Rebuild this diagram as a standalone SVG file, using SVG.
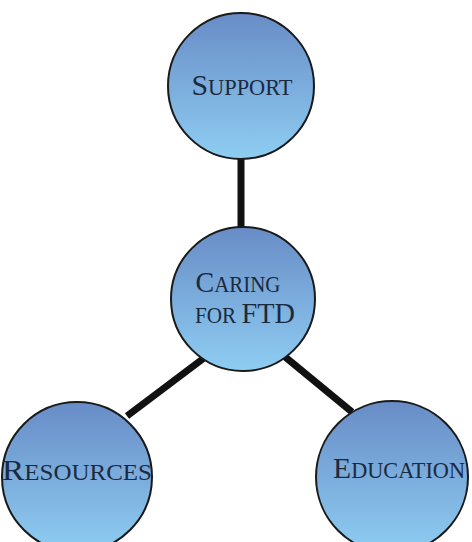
<svg xmlns="http://www.w3.org/2000/svg" width="472" height="542" viewBox="0 0 472 542">
<style>
.node{stroke:#1a1a1a;stroke-width:2;fill:url(#g)}
.conn{stroke:#111;stroke-width:7;stroke-linecap:butt}
.lbl{font-family:"Liberation Serif","Times New Roman",serif;fill:#1b2a3e;text-anchor:middle}
.big{font-size:30px}
.sm{font-size:22.5px}
</style>
<defs>
<linearGradient id="g" x1="0" y1="0" x2="0" y2="1">
<stop offset="0" stop-color="#688cc6"/>
<stop offset="1" stop-color="#8ecdf2"/>
</linearGradient>
</defs>
<rect width="472" height="542" fill="#fff"/>
<g id="connectors">
<line class="conn" x1="241" y1="156" x2="241" y2="232"/>
<line class="conn" x1="204" y1="358" x2="127" y2="416"/>
<line class="conn" x1="284" y1="356" x2="352" y2="412"/>
</g>
<g id="support">
<circle class="node" cx="241" cy="86" r="73"/>
<text class="lbl" x="242" y="95" textLength="101" lengthAdjust="spacingAndGlyphs"><tspan class="big">S</tspan><tspan class="sm">UPPORT</tspan></text>
</g>
<g id="caring">
<circle class="node" cx="243" cy="299" r="72"/>
<text class="lbl" x="238" y="292" textLength="85" lengthAdjust="spacingAndGlyphs"><tspan class="big">C</tspan><tspan class="sm">ARING</tspan></text>
<text class="lbl" x="245" y="323" textLength="100" lengthAdjust="spacingAndGlyphs"><tspan class="sm">FOR </tspan><tspan class="big">FTD</tspan></text>
</g>
<g id="resources">
<circle class="node" cx="77" cy="477" r="75"/>
<text class="lbl" x="77" y="480" textLength="150" lengthAdjust="spacingAndGlyphs"><tspan class="big">R</tspan><tspan class="sm">ESOURCES</tspan></text>
</g>
<g id="education">
<circle class="node" cx="392" cy="477" r="76"/>
<text class="lbl" x="399" y="478" textLength="132" lengthAdjust="spacingAndGlyphs"><tspan class="big">E</tspan><tspan class="sm">DUCATION</tspan></text>
</g>
</svg>
